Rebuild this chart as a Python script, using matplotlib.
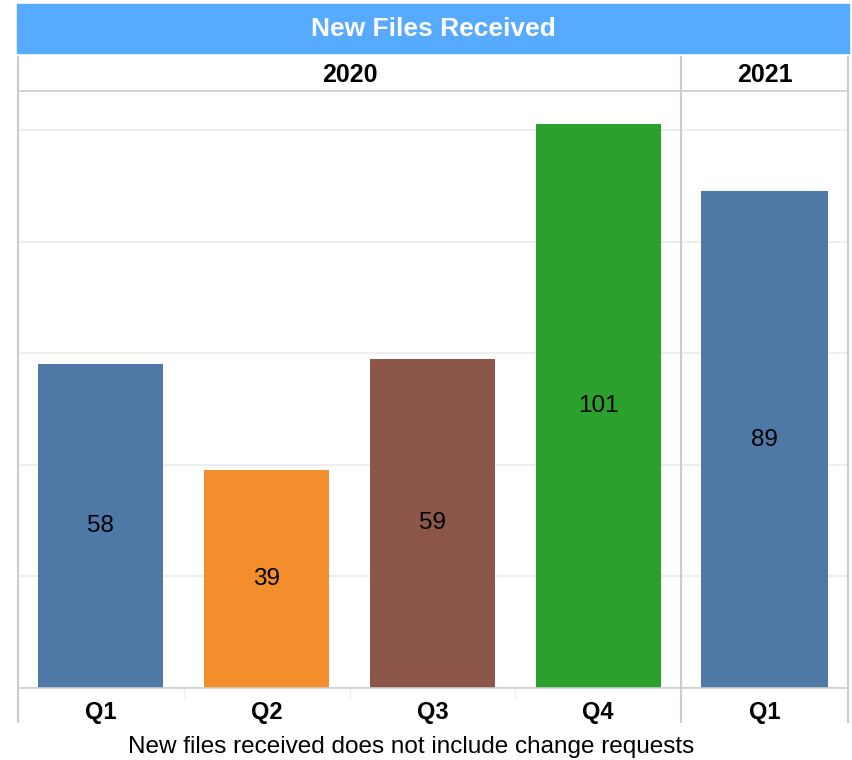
import matplotlib.pyplot as plt
from matplotlib.lines import Line2D
from matplotlib.patches import Rectangle

plt.rcParams['font.family'] = ['Liberation Sans', 'DejaVu Sans']

years = ['2020', '2021']
quarters_2020 = ['Q1', 'Q2', 'Q3', 'Q4']
values_2020 = [58, 39, 59, 101]
quarters_2021 = ['Q1']
values_2021 = [89]
colors_2020 = ['#4e79a7', '#f28e2b', '#8c564b', '#2ca02c']
colors_2021 = ['#4e79a7']

W, H = 852, 760
fig = plt.figure(figsize=(W / 100, H / 100), dpi=100)

def fx(px):
    return px / W

def fy(py):
    return 1 - py / H

top_px, bot_px = 91, 688
x_left, x_split, x_right = 18, 681, 848
ymax = 107

ax1 = fig.add_axes([fx(x_left), fy(bot_px), fx(x_split - x_left), fy(top_px) - fy(bot_px)])
ax2 = fig.add_axes([fx(x_split), fy(bot_px), fx(x_right - x_split), fy(top_px) - fy(bot_px)])

for ax, qs, vals, cols in [(ax1, quarters_2020, values_2020, colors_2020),
                           (ax2, quarters_2021, values_2021, colors_2021)]:
    xs = range(len(qs))
    ax.bar(xs, vals, width=0.755, color=cols, zorder=3)
    for x, v in zip(xs, vals):
        ax.text(x, v / 2, str(v), ha='center', va='center', fontsize=17.5, color='black', zorder=4)
    ax.set_xlim(-0.5, len(qs) - 0.5)
    ax.set_ylim(0, ymax)
    ax.set_yticks([0, 20, 40, 60, 80, 100])
    ax.grid(axis='y', color='#eeeeee', linewidth=1.5, zorder=0)
    ax.set_xticks(list(xs))
    ax.set_xticklabels(qs, fontsize=17, fontweight='bold')
    ax.tick_params(axis='x', length=0, pad=9)
    ax.tick_params(axis='y', length=0, labelleft=False)
    for s in ax.spines.values():
        s.set_visible(False)
    # faint separators between categories below the axis
    for b in range(1, len(qs)):
        ax.plot([b - 0.5, b - 0.5], [0, -1.6], color='#eeeeee', lw=1, clip_on=False)

# title bar
fig.patches.append(Rectangle((fx(17), fy(53)), fx(849 - 17), fy(4) - fy(53),
                             transform=fig.transFigure, color='#56aaff', zorder=0))
fig.text(fx(433), fy(29), 'New Files Received', ha='center', va='center',
         fontsize=19, fontweight='bold', color='white')

# year header
fig.text(fx((x_left + x_split) / 2), fy(75), years[0], ha='center', va='center',
         fontsize=18, fontweight='bold')
fig.text(fx((x_split + x_right) / 2), fy(75), years[1], ha='center', va='center',
         fontsize=18, fontweight='bold')

line_c = '#cccccc'
for px in [x_left - 0.5, x_split, x_right]:
    fig.add_artist(Line2D([fx(px), fx(px)], [fy(57), fy(722)], color=line_c, lw=1.5))
fig.add_artist(Line2D([fx(x_left), fx(x_right)], [fy(top_px), fy(top_px)], color=line_c, lw=1.2))
fig.add_artist(Line2D([fx(x_left), fx(x_right)], [fy(bot_px), fy(bot_px)], color=line_c, lw=1.2))

fig.text(fx(411), fy(747), 'New files received does not include change requests',
         ha='center', va='center', fontsize=17.5)

fig.savefig('out.png', dpi=100)
